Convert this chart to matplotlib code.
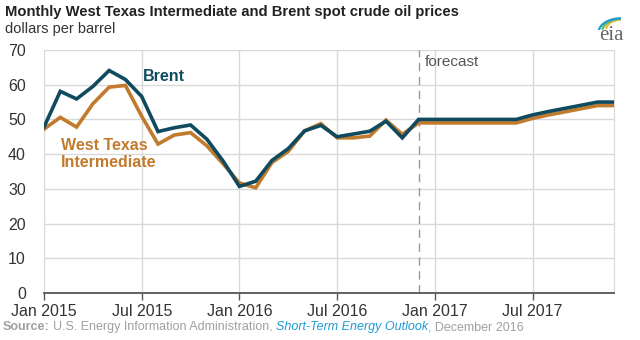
import matplotlib
matplotlib.use("Agg")
import matplotlib.pyplot as plt
from matplotlib.patches import Arc

plt.rcParams['font.family'] = ['Liberation Sans', 'DejaVu Sans']

# month index 0 = Jan 2015
months = list(range(36))
brent = [47.8, 58.1, 55.9, 59.5, 64.1, 61.5, 56.6, 46.5, 47.6, 48.4, 44.3, 38.0,
         30.7, 32.2, 38.2, 41.6, 46.7, 48.3, 45.0, 45.8, 46.6, 49.5, 44.7, 50.0,
         50.0, 50.0, 50.0, 50.0, 50.0, 50.0, 51.3, 52.3, 53.2, 54.1, 55.0, 55.0]
wti = [47.2, 50.6, 47.8, 54.5, 59.3, 59.8, 50.9, 42.9, 45.5, 46.2, 42.4, 37.2,
       31.7, 30.3, 37.6, 40.8, 46.7, 48.8, 44.7, 44.7, 45.2, 49.8, 45.7, 49.0,
       49.0, 49.0, 49.0, 49.0, 49.0, 49.0, 50.3, 51.3, 52.2, 53.1, 54.0, 54.0]
tick_pos = [0, 6, 12, 18, 24, 30]
tick_labels = ['Jan 2015', 'Jul 2015', 'Jan 2016', 'Jul 2016', 'Jan 2017', 'Jul 2017']
y_ticks = [0, 10, 20, 30, 40, 50, 60, 70]
forecast_start = 23

BRENT_C = '#0f4a5f'
WTI_C = '#c27a2c'
GRID_C = '#d9d9d9'
TEXT_C = '#333333'

fig = plt.figure(figsize=(6.4, 3.4), dpi=100)
ax = fig.add_axes([44/640, 47/340, (614-44)/640, (293-50)/340])

ax.plot(months, wti, color=WTI_C, lw=2.6, solid_joinstyle='miter', zorder=3)
ax.plot(months, brent, color=BRENT_C, lw=2.6, solid_joinstyle='miter', zorder=4)

ax.set_xlim(0, 35)
ax.set_ylim(0, 70)
ax.set_xticks(tick_pos)
ax.set_xticklabels(tick_labels, fontsize=11.5, color=TEXT_C)
ax.set_yticks(y_ticks)
ax.set_yticklabels([str(v) for v in y_ticks], fontsize=11.5, color=TEXT_C)
ax.grid(True, color=GRID_C, lw=1)
ax.set_axisbelow(True)
for s in ['top', 'left']:
    ax.spines[s].set_visible(False)
ax.spines['right'].set_color(GRID_C)
ax.spines['bottom'].set_color('#555555')
ax.spines['bottom'].set_linewidth(1.3)
ax.tick_params(axis='y', length=0, pad=13)
ax.tick_params(axis='x', length=5, color='#555555', width=1, pad=3)

ax.axvline(forecast_start, color='#999999', lw=1, ls=(0, (6, 4)), zorder=2)
ax.text(forecast_start + 0.35, 68.5, 'forecast', fontsize=11, color='#555555',
        va='top', ha='left')

ax.text(7.35, 62.5, 'Brent', fontsize=11.5, fontweight='bold', color=BRENT_C,
        ha='center', va='center')
ax.text(1.05, 42.5, 'West Texas', fontsize=11.5, fontweight='bold', color=WTI_C,
        ha='left', va='center')
ax.text(1.05, 37.5, 'Intermediate', fontsize=11.5, fontweight='bold', color=WTI_C,
        ha='left', va='center')

fig.text(5/640, 1 - 12/340, 'Monthly West Texas Intermediate and Brent spot crude oil prices',
         fontsize=10.6, fontweight='bold', color='#222222', va='center', ha='left')
fig.text(5/640, 1 - 29/340, 'dollars per barrel', fontsize=10.5, color='#333333',
         va='center', ha='left')

# source line
t1 = fig.text(3/640, 1 - 327/340, 'Source:', fontsize=9, fontweight='bold',
              color='#a0a0a0', va='center', ha='left')
fig.canvas.draw()
r = fig.canvas.get_renderer()
bb = t1.get_window_extent(r)
x = bb.x1 / 640 + 3/640
t2 = fig.text(x, 1 - 327/340, 'U.S. Energy Information Administration, ', fontsize=9,
              color='#a0a0a0', va='center', ha='left')
bb = t2.get_window_extent(r)
t3 = fig.text(bb.x1 / 640, 1 - 327/340, 'Short-Term Energy Outlook', fontsize=9,
              style='italic', color='#1f9ad6', va='center', ha='left')
bb = t3.get_window_extent(r)
fig.text(bb.x1 / 640, 1 - 327/340, ', December 2016', fontsize=9,
         color='#a0a0a0', va='center', ha='left')

# eia logo
fig.text(611/640, 1 - 35/340, 'eia', fontsize=15, family='Liberation Serif',
         color='#666666', va='center', ha='center')
lax = fig.add_axes([597/640, 1 - 30/340, 30/640, 13/340])
lax.set_xlim(0, 1); lax.set_ylim(0, 1); lax.axis('off')
for i, c in enumerate(['#f2b632', '#6bbf59', '#1f9ad6']):
    lax.add_patch(Arc((0.8, 0.0 - i * 0.1), 1.0 + i * 0.25, 1.6 + i * 0.3,
                      theta1=90, theta2=170, color=c, lw=1.6))

fig.savefig('out.png', dpi=100)
